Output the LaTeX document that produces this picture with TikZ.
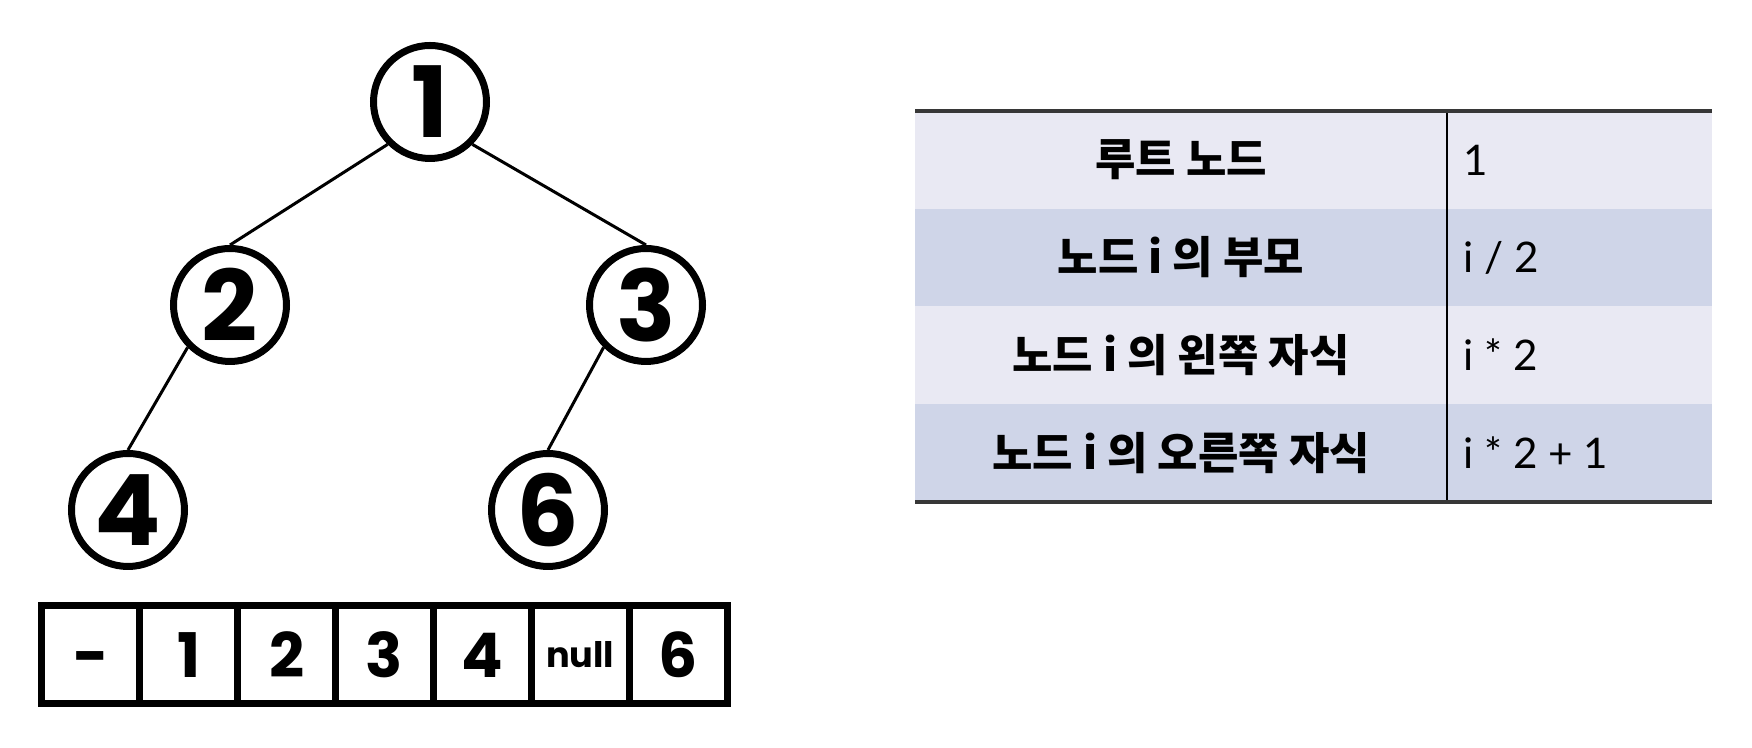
\documentclass[tikz,border=0pt]{standalone}
\usepackage{fontspec}
\setmainfont{Noto Sans CJK KR}
\newfontfamily\numfont{Poppins}
\newfontfamily\valfont{Lato}
\usepackage{xcolor}
\usepackage{tikz}
\definecolor{rowlight}{RGB}{233,233,243}
\definecolor{rowdark}{RGB}{207,213,232}
\definecolor{rulegray}{RGB}{55,55,55}
\tikzstyle{treenode} = [circle,draw,line width=0.07cm,minimum size=1.13cm,inner sep=0pt,font=\numfont\bfseries\fontsize{28}{28}\selectfont]
\tikzstyle{edge} = [line width=0.03cm]
\tikzstyle{cell} = [draw,line width=0.07cm,minimum width=0.979cm,minimum height=0.98cm,inner sep=0pt,font=\numfont\bfseries\fontsize{17.5}{17.5}\selectfont]
\tikzstyle{keytext} = [font=\bfseries\fontsize{12.5}{12.5}\selectfont]
\tikzstyle{valtext} = [anchor=west,font=\valfont\fontsize{12}{12}\selectfont]

\begin{document}
\begin{tikzpicture}
            \useasboundingbox (0,0) rectangle (17.52,7.48);
            % tree
            \node[treenode] (n1) at (4.30,6.46) {1};
            \node[treenode] (n2) at (2.30,4.43) {2};
            \node[treenode] (n3) at (6.46,4.43) {3};
            \node[treenode] (n4) at (1.28,2.38) {4};
            \node[treenode] (n6) at (5.48,2.38) {6};
            \draw[edge] (n1.south west) -- (n2.north);
            \draw[edge] (n1.south east) -- (n3.north);
            \draw[edge] (n2.south west) -- (n4.north);
            \draw[edge] (n3.south west) -- (n6.north);
            % array
            \node[cell] (a0) at (0.909,0.93) {\vphantom{1}-};
            \node[cell] (a1) at (1.888,0.93) {1};
            \node[cell] (a2) at (2.866,0.93) {2};
            \node[cell] (a3) at (3.845,0.93) {3};
            \node[cell] (a4) at (4.823,0.93) {4};
            \node[cell,font=\numfont\bfseries\fontsize{10}{10}\selectfont] (a5) at (5.802,0.93) {null};
            \node[cell] (a6) at (6.781,0.93) {6};
            % table
            \fill[rowlight] (9.15,6.37) rectangle (17.12,5.39);
            \fill[rowdark] (9.15,5.39) rectangle (17.12,4.42);
            \fill[rowlight] (9.15,4.42) rectangle (17.12,3.44);
            \fill[rowdark] (9.15,3.44) rectangle (17.12,2.46);
            \draw[line width=0.02cm] (14.47,6.37) -- (14.47,2.46);
            \draw[rulegray,line width=0.04cm] (9.15,6.37) -- (17.12,6.37);
            \draw[rulegray,line width=0.04cm] (9.15,2.46) -- (17.12,2.46);
            \node[keytext] (k1) at (11.81,5.88) {루트 노드};
            \node[keytext] (k2) at (11.81,4.905) {노드 i 의 부모};
            \node[keytext] (k3) at (11.81,3.93) {노드 i 의 왼쪽 자식};
            \node[keytext] (k4) at (11.81,2.95) {노드 i 의 오른쪽 자식};
            \node[valtext] (v1) at (14.51,5.88) {1};
            \node[valtext] (v2) at (14.51,4.905) {i / 2};
            \node[valtext] (v3) at (14.51,3.93) {i * 2};
            \node[valtext] (v4) at (14.51,2.95) {i * 2 + 1};
        \end{tikzpicture}
\end{document}
